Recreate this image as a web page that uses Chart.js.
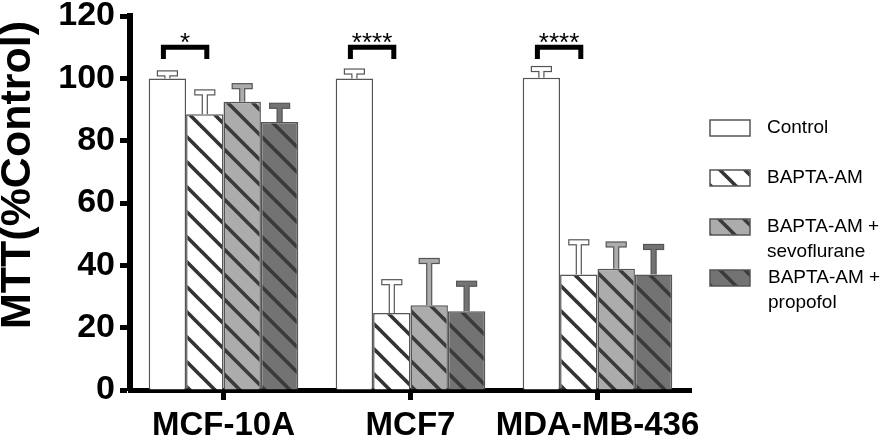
<!DOCTYPE html>
<html>
<head>
<meta charset="utf-8">
<script src="https://cdn.jsdelivr.net/npm/chart.js@4"></script>
<style>
  html, body { margin: 0; padding: 0; background: #fff; }
  #wrap { width: 896px; height: 441px; }
</style>
</head>
<body>
<div id="wrap"><canvas id="chart1" width="896" height="441"></canvas></div>
<script>
// cell lines on the x axis
const categories = ['MCF-10A', 'MCF7', 'MDA-MB-436'];

// mean MTT (% of control) and upper error (SD) per treatment
const controlValues = [100, 100, 100.2];
const controlErr    = [2.4, 3.0, 3.6];
const baptaValues   = [88.5, 24.7, 37.1];
const baptaErr      = [7.8, 10.7, 11.1];
const sevoValues    = [92.5, 27.2, 38.9];
const sevoErr       = [5.8, 15.0, 8.6];
const propValues    = [86.0, 25.3, 37.1];
const propErr       = [6.0, 9.6, 9.6];

const seriesNames = ['Control', 'BAPTA-AM', 'BAPTA-AM + sevoflurane', 'BAPTA-AM + propofol'];
const legendLines = [['Control'], ['BAPTA-AM'], ['BAPTA-AM +', 'sevoflurane'], ['BAPTA-AM +', 'propofol']];
const yTitle = 'MTT(%Control)';

// significance marks (control vs BAPTA-AM)
const sigLabels = ['*', '****', '****'];
const sigTop = 110;   // bracket top, in y units
const sigLeg = 106.2; // bracket legs end

const yMin = 0, yMax = 120, yStep = 20;

// diagonal hatch "\" on a base colour
function hatch(base, lineColor) {
	const s = 25;
	const c = document.createElement('canvas');
	c.width = s; c.height = s;
	const g = c.getContext('2d');
	g.fillStyle = base;
	g.fillRect(0, 0, s, s);
	g.strokeStyle = lineColor;
	g.lineWidth = 3.6;
	for (let k = -1; k <= 1; k++) {
		g.beginPath();
		g.moveTo(k * s - 6, -6);
		g.lineTo(k * s + s + 6, s + 6);
		g.stroke();
	}
	return g.createPattern(c, 'repeat');
}

const solidColors = ['#ffffff', '#ffffff', '#acacac', '#737373'];
const fills = [
	'#ffffff',
	hatch('#ffffff', '#333333'),
	hatch('#acacac', '#3a3a3a'),
	hatch('#737373', '#3a3a3a')
];
const errs = [controlErr, baptaErr, sevoErr, propErr];

const errorBars = {
	id: 'errorBars',
	afterDatasetsDraw(chart) {
		const ctx = chart.ctx;
		const ys = chart.scales.y;
		chart.data.datasets.forEach((ds, di) => {
			const meta = chart.getDatasetMeta(di);
			meta.data.forEach((bar, i) => {
				const top = bar.y;
				const cap = ys.getPixelForValue(ds.data[i] + errs[di][i]);
				ctx.save();
				ctx.fillStyle = solidColors[di];
				ctx.strokeStyle = '#555';
				ctx.lineWidth = 1.2;
				// stem
				ctx.fillRect(bar.x - 2.5, cap + 4, 5, top - cap - 4);
				ctx.beginPath();
				ctx.moveTo(bar.x - 2.5, top); ctx.lineTo(bar.x - 2.5, cap + 5);
				ctx.moveTo(bar.x + 2.5, top); ctx.lineTo(bar.x + 2.5, cap + 5);
				ctx.stroke();
				// cap
				ctx.fillRect(bar.x - 10, cap, 20, 5);
				ctx.strokeRect(bar.x - 10, cap, 20, 5);
				ctx.fillRect(bar.x - 1.9, cap + 4, 3.8, 2);
				ctx.restore();
			});
		});
	}
};

const sigMarks = {
	id: 'sigMarks',
	afterDatasetsDraw(chart) {
		const ctx = chart.ctx;
		const ys = chart.scales.y;
		const m0 = chart.getDatasetMeta(0).data;
		const m1 = chart.getDatasetMeta(1).data;
		sigLabels.forEach((lab, i) => {
			const x1 = m0[i].x - 4;
			const x2 = m1[i].x + 2;
			const yt = ys.getPixelForValue(sigTop);
			const yl = ys.getPixelForValue(sigLeg);
			ctx.save();
			ctx.strokeStyle = '#000';
			ctx.lineWidth = 5;
			ctx.lineJoin = 'miter';
			ctx.beginPath();
			ctx.moveTo(x1, yl); ctx.lineTo(x1, yt); ctx.lineTo(x2, yt); ctx.lineTo(x2, yl);
			ctx.stroke();
			ctx.fillStyle = '#000';
			ctx.font = '26px "Liberation Sans", Arial, sans-serif';
			ctx.textAlign = 'center';
			ctx.textBaseline = 'alphabetic';
			ctx.fillText(lab, (x1 + x2) / 2, yt + 4);
			ctx.restore();
		});
	}
};

// y title sits a bit above the middle of the axis in the original
const yTitleDraw = {
	id: 'yTitleDraw',
	afterDraw(chart) {
		const ctx = chart.ctx;
		ctx.save();
		ctx.translate(18, 175);
		ctx.rotate(-Math.PI / 2);
		ctx.fillStyle = '#000';
		ctx.font = 'bold 43px "Liberation Sans", Arial, sans-serif';
		ctx.textAlign = 'center';
		ctx.textBaseline = 'middle';
		ctx.fillText(yTitle, 0, 0);
		ctx.restore();
	}
};

const sideLegend = {
	id: 'sideLegend',
	afterDraw(chart) {
		const ctx = chart.ctx;
		const rowY = [128, 178, 227, 278];
		ctx.save();
		legendLines.forEach((lines, i) => {
			ctx.fillStyle = fills[i];
			ctx.fillRect(710, rowY[i] - 8, 40, 16);
			ctx.strokeStyle = '#555';
			ctx.lineWidth = 1.5;
			ctx.strokeRect(710, rowY[i] - 8, 40, 16);
			ctx.fillStyle = '#000';
			ctx.font = '19px "Liberation Sans", Arial, sans-serif';
			ctx.textAlign = 'left';
			ctx.textBaseline = 'middle';
			lines.forEach((t, k) => {
				ctx.fillText(t, i === 3 ? 768 : 767, rowY[i] + k * 25);
			});
		});
		ctx.restore();
	}
};

function draw() {
	const datasets = [controlValues, baptaValues, sevoValues, propValues].map((vals, i) => ({
		label: seriesNames[i],
		data: vals,
		backgroundColor: fills[i],
		borderColor: '#555',
		borderWidth: 1.5,
		borderSkipped: 'bottom',
		categoryPercentage: 0.8,
		barPercentage: 1.0
	}));

	new Chart('chart1', {
		type: 'bar',
		data: { labels: categories, datasets: datasets },
		options: {
			responsive: false,
			animation: false,
			layout: { padding: { top: 0, right: 205, left: 0, bottom: 0 } },
			plugins: {
				legend: { display: false },
				tooltip: { enabled: false }
			},
			scales: {
				x: {
					grid: {
						display: true, drawOnChartArea: false, drawTicks: true, offset: false,
						tickLength: 10, tickWidth: 5, tickColor: '#000'
					},
					border: { display: true, color: '#000', width: 5 },
					ticks: {
						color: '#000', padding: 6, maxRotation: 0, autoSkip: false,
						font: { family: '"Liberation Sans", Arial, sans-serif', size: 33, weight: 'bold' }
					},
					afterFit(scale) { scale.height = 51; }
				},
				y: {
					min: yMin, max: yMax,
					grid: {
						display: true, drawOnChartArea: false, drawTicks: true,
						tickLength: 10, tickWidth: 5, tickColor: '#000'
					},
					border: { display: true, color: '#000', width: 6 },
					ticks: {
						stepSize: yStep, color: '#000', padding: 5,
						font: { family: '"Liberation Sans", Arial, sans-serif', size: 34, weight: 'bold', lineHeight: 0.65 }
					},
					afterFit(scale) { scale.width = 130; }
				}
			}
		},
		plugins: [errorBars, sigMarks, yTitleDraw, sideLegend]
	});
}
draw();
</script>
</body>
</html>
